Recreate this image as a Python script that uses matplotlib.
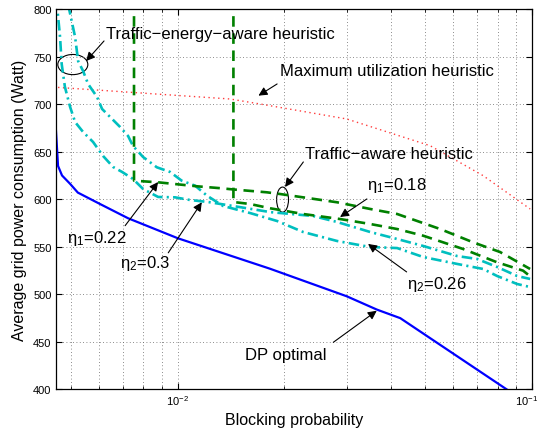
import matplotlib
matplotlib.use('Agg')
import matplotlib.pyplot as plt
import matplotlib.transforms as mtransforms
from matplotlib.patches import Ellipse
from matplotlib.ticker import LogLocator, NullFormatter

# ---------------- data ----------------
dp_x = [0.00452, 0.00459, 0.00471, 0.00497, 0.00522, 0.00603, 0.00724, 0.0100,
        0.0182, 0.0300, 0.0365, 0.0425, 0.085]
dp_y = [677, 635, 625, 616, 607, 595, 580, 559, 527, 498, 484, 475, 400]

maxutil_x = [0.004525, 0.00453, 0.01405, 0.0171, 0.0300, 0.05161, 0.07286, 0.0989]
maxutil_y = [782, 717.7, 705.4, 700.1, 684.4, 656.3, 624.8, 589.8]

ta022_x = [0.007523, 0.007523, 0.0088, 0.01134, 0.01331, 0.01433, 0.01784, 0.01945,
           0.02259, 0.02818, 0.03492, 0.04164, 0.05508, 0.06827, 0.08136, 0.0989]
ta022_y = [815, 619.5, 617.8, 613.6, 611.5, 610.3, 607.3, 605.5,
           602.0, 596.8, 589.8, 584.5, 568.7, 554.7, 544.5, 526.7]

ta018_x = [0.01436, 0.01436, 0.016, 0.01823, 0.02259, 0.02873, 0.03492, 0.04164,
           0.04931, 0.06397, 0.0798, 0.0945, 0.0989]
ta018_y = [815, 597.1, 595.0, 590.5, 584.5, 579.2, 574.0, 568.7,
           561.7, 547.7, 533.7, 524.9, 519.0]

tea030_x = [0.00453, 0.00465, 0.00470, 0.00480, 0.004965, 0.005128, 0.005402, 0.005764,
            0.006152, 0.006566, 0.006962, 0.007475, 0.00798, 0.0088, 0.009826, 0.01083,
            0.01218, 0.01433, 0.01823, 0.02411, 0.02818, 0.03492, 0.04164, 0.04931,
            0.06152, 0.07005, 0.0798, 0.09089, 0.0989]
tea030_y = [815, 770.6, 742.2, 718.0, 697.0, 681.2, 670.7, 660.2,
            645.5, 633.9, 628.7, 621.3, 610.8, 602.4, 602.0, 599.2,
            597.1, 592.9, 586.5, 582.4, 576.1, 565.6, 558.2, 550.9,
            540.3, 537.2, 528.8, 519.3, 516.2]

tea026_x = [0.0049, 0.005128, 0.00523, 0.005402, 0.00558, 0.005916, 0.006112, 0.006524,
            0.006871, 0.007238, 0.007475, 0.00798, 0.008725, 0.009511, 0.01026, 0.01119,
            0.0121, 0.01343, 0.016, 0.01908, 0.02259, 0.02818, 0.03492, 0.04164,
            0.04931, 0.06152, 0.07286, 0.0798, 0.09089, 0.0989]
tea026_y = [805, 770.6, 745.3, 734.8, 721.2, 707.5, 694.9, 684.4,
            676.0, 666.5, 656.0, 644.4, 633.6, 628.7, 619.5, 614.3,
            603.7, 592.9, 585.5, 577.1, 565.6, 556.1, 549.8, 548.7,
            539.3, 532.0, 526.7, 519.3, 510.9, 507.7]

y_ticks = [400, 450, 500, 550, 600, 650, 700, 750, 800]

# ---------------- style ----------------
plt.rcParams['font.family'] = ['Liberation Sans', 'DejaVu Sans']
plt.rcParams['mathtext.fontset'] = 'custom'
plt.rcParams['mathtext.rm'] = 'Liberation Sans'
plt.rcParams['mathtext.it'] = 'Liberation Sans:italic'
plt.rcParams['mathtext.bf'] = 'Liberation Sans:bold'

fig = plt.figure(figsize=(5.38, 4.31), dpi=100)
ax = fig.add_axes([0.1035, 0.094, 0.885, 0.8828])

green = '#008000'
cyan = '#00bfbf'

ax.plot(maxutil_x, maxutil_y, color='#ff3b3b', lw=1.0, linestyle=(0, (1, 2.5)))
ax.plot(tea030_x, tea030_y, color=cyan, lw=1.9, linestyle=(0, (4, 1.6, 0.8, 1.6)))
ax.plot(tea026_x, tea026_y, color=cyan, lw=1.9, linestyle=(0, (4, 1.6, 0.8, 1.6)))
ax.plot(ta022_x, ta022_y, color=green, lw=1.9, linestyle=(0, (4, 2.5)))
ax.plot(ta018_x, ta018_y, color=green, lw=1.9, linestyle=(0, (4, 2.5)))
ax.plot(dp_x, dp_y, color='#0000ff', lw=1.6)

ax.set_xscale('log')
ax.set_xlim(0.00452, 0.1)
ax.set_ylim(400, 800)
ax.set_yticks(y_ticks)
ax.xaxis.set_major_locator(LogLocator(base=10, numticks=10))
ax.xaxis.set_minor_locator(LogLocator(base=10, subs=range(2, 10), numticks=20))
ax.xaxis.set_minor_formatter(NullFormatter())

ax.grid(True, which='major', axis='both', color='#666666', lw=0.6, linestyle=(0, (1, 3)))
ax.grid(True, which='minor', axis='x', color='#666666', lw=0.6, linestyle=(0, (1, 3)))
ax.tick_params(which='both', direction='in', top=True, right=True, labelsize=8, pad=3)
ax.tick_params(which='major', length=4)
ax.tick_params(which='minor', length=2)
for s in ax.spines.values():
    s.set_linewidth(0.9)

ax.set_xlabel('Blocking probability', fontsize=11.5, labelpad=3)
ax.set_ylabel('Average grid power consumption (Watt)', fontsize=11.5, labelpad=4)

# nudge the rightmost x tick label so it stays inside the figure
fig.canvas.draw()
for lbl in ax.get_xticklabels():
    x, _ = lbl.get_position()
    if abs(x - 0.1) < 1e-6:
        lbl.set_transform(lbl.get_transform() +
                          mtransforms.ScaledTranslation(-5 / 100, 0, fig.dpi_scale_trans))

# ---------------- annotations ----------------
fs = 12
arrow = dict(arrowstyle='-|>', color='k', lw=0.8, mutation_scale=13, shrinkA=0, shrinkB=0)

def note(txt, tx, ty, sx, sy, ex, ey):
    ax.text(tx, ty, txt, fontsize=fs, ha='left', va='center')
    ax.annotate('', xy=(ex, ey), xytext=(sx, sy), arrowprops=arrow)

note('Traffic\u2212energy\u2212aware heuristic', 0.00625, 774, 0.00619, 766.4, 0.00551, 745.3)
note('Maximum utilization heuristic', 0.01945, 735.1, 0.01908, 721.2, 0.0169, 708.9)
note('Traffic\u2212aware heuristic', 0.02289, 647.6, 0.02263, 639.2, 0.02009, 612.9)
note('\u03b7$_1$=0.18', 0.03425, 616.0, 0.0342, 600.3, 0.02873, 581.3)
note('\u03b7$_1$=0.22', 0.00487, 560.3, 0.0071, 572.2, 0.0088, 618.1)
note('\u03b7$_2$=0.3', 0.00687, 534.0, 0.0094, 543.7, 0.01169, 596.8)
note('\u03b7$_2$=0.26', 0.04441, 511.3, 0.0443, 523.6, 0.03447, 553.0)
note('DP optimal', 0.01551, 437.3, 0.0275, 449.6, 0.03648, 482.8)

ax.add_patch(Ellipse((0.036, 0.854), 0.063, 0.053, transform=ax.transAxes,
                     fill=False, ec='k', lw=0.8))
ax.add_patch(Ellipse((0.4765, 0.499), 0.025, 0.066, transform=ax.transAxes,
                     fill=False, ec='k', lw=0.8))

fig.savefig('out.png', dpi=100)
